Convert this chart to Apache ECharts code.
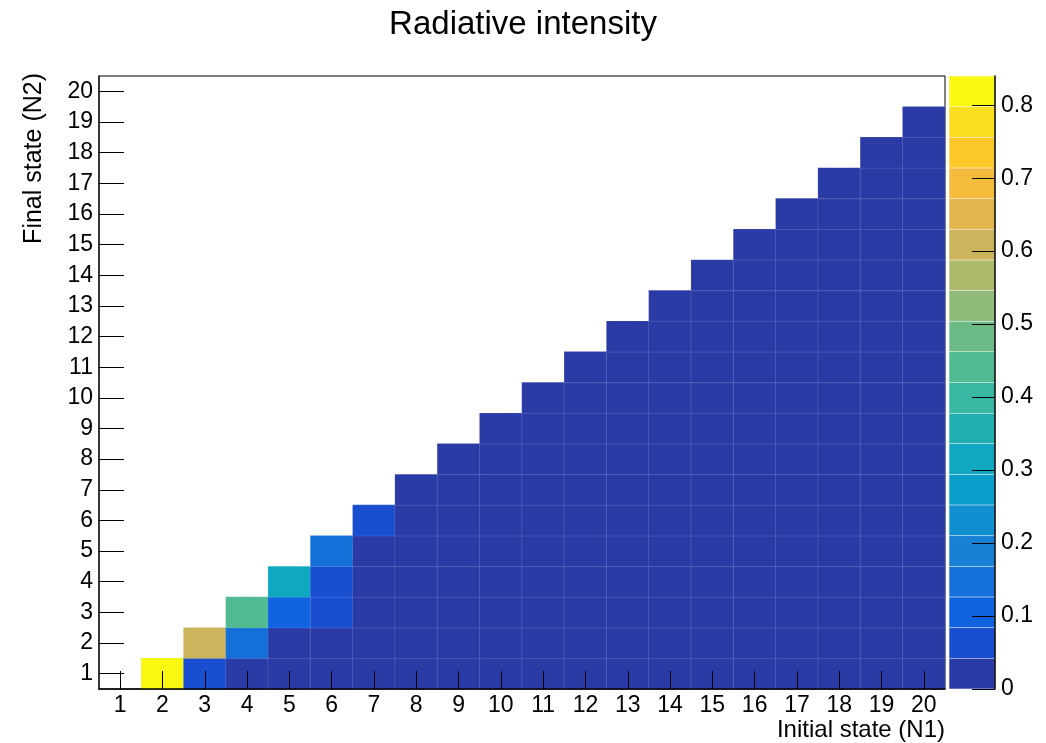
<!DOCTYPE html>
<html>
<head>
<meta charset="utf-8">
<script src="https://cdn.jsdelivr.net/npm/echarts@6/dist/echarts.min.js"></script>
<style>html,body{margin:0;padding:0;background:#fff;}#c{width:1046px;height:743px;}</style>
</head>
<body>
<div id="c"></div>
<script>
// Bin labels for both axes
const initialStates = ['1','2','3','4','5','6','7','8','9','10','11','12','13','14','15','16','17','18','19','20'];
const finalStates   = ['1','2','3','4','5','6','7','8','9','10','11','12','13','14','15','16','17','18','19','20'];

// Radiative intensity: row for final state N2, values for N1 = N2+1 .. 20
const rowN2_1  = [0.82, 0.06, 0.03, 0.02, 0.015, 0.012, 0.01, 0.008, 0.007, 0.006, 0.005, 0.004, 0.004, 0.003, 0.003, 0.003, 0.002, 0.002, 0.002];
const rowN2_2  = [0.61, 0.14, 0.035, 0.025, 0.02, 0.015, 0.012, 0.01, 0.008, 0.007, 0.006, 0.005, 0.004, 0.004, 0.003, 0.003, 0.003, 0.002];
const rowN2_3  = [0.44, 0.10, 0.06, 0.03, 0.02, 0.015, 0.012, 0.01, 0.008, 0.007, 0.006, 0.005, 0.004, 0.004, 0.003, 0.003, 0.003];
const rowN2_4  = [0.31, 0.06, 0.035, 0.025, 0.02, 0.015, 0.012, 0.01, 0.008, 0.007, 0.006, 0.005, 0.004, 0.004, 0.003, 0.003];
const rowN2_5  = [0.15, 0.035, 0.03, 0.02, 0.015, 0.012, 0.01, 0.008, 0.007, 0.006, 0.005, 0.004, 0.004, 0.003, 0.003];
const rowN2_6  = [0.06, 0.03, 0.025, 0.02, 0.015, 0.012, 0.01, 0.008, 0.007, 0.006, 0.005, 0.004, 0.004, 0.003];
const rowN2_7  = [0.035, 0.025, 0.02, 0.015, 0.012, 0.01, 0.008, 0.007, 0.006, 0.005, 0.004, 0.004, 0.003];
const rowN2_8  = [0.03, 0.022, 0.018, 0.014, 0.011, 0.009, 0.008, 0.007, 0.006, 0.005, 0.004, 0.004];
const rowN2_9  = [0.028, 0.02, 0.016, 0.013, 0.01, 0.009, 0.008, 0.007, 0.006, 0.005, 0.004];
const rowN2_10 = [0.026, 0.019, 0.015, 0.012, 0.01, 0.009, 0.008, 0.007, 0.006, 0.005];
const rowN2_11 = [0.024, 0.018, 0.014, 0.011, 0.009, 0.008, 0.007, 0.006, 0.005];
const rowN2_12 = [0.022, 0.017, 0.013, 0.011, 0.009, 0.008, 0.007, 0.006];
const rowN2_13 = [0.021, 0.016, 0.012, 0.01, 0.009, 0.008, 0.007];
const rowN2_14 = [0.02, 0.015, 0.012, 0.01, 0.009, 0.008];
const rowN2_15 = [0.019, 0.014, 0.011, 0.01, 0.009];
const rowN2_16 = [0.018, 0.014, 0.011, 0.01];
const rowN2_17 = [0.017, 0.013, 0.011];
const rowN2_18 = [0.016, 0.013];
const rowN2_19 = [0.015];
const rows = [rowN2_1,rowN2_2,rowN2_3,rowN2_4,rowN2_5,rowN2_6,rowN2_7,rowN2_8,rowN2_9,rowN2_10,
              rowN2_11,rowN2_12,rowN2_13,rowN2_14,rowN2_15,rowN2_16,rowN2_17,rowN2_18,rowN2_19];

// Colour levels (20 contours) and palette
const levels = [0,0.042,0.084,0.126,0.168,0.21,0.252,0.294,0.336,0.378,0.42,0.462,0.504,0.546,0.588,0.63,0.672,0.714,0.756,0.798,0.84];
const palette = ['#2b3ba6','#1a4ed0','#0f62e0','#1470d8','#1880d4','#1090d0','#0a9ecb','#10a8c0','#20b0b0','#38b8a0',
                 '#50ba90','#6cbb86','#90bb78','#aebb6c','#cbb45c','#e3b64e','#f5bb3c','#fcc82a','#fade20','#f8f810'];
const colorbarTicks = [0,0.1,0.2,0.3,0.4,0.5,0.6,0.7,0.8];

const heatData = [];
rows.forEach((row, i) => {
  row.forEach((v, j) => {
    heatData.push([i + 1 + j, i, v]); // x index = N1-1, y index = N2-1
  });
});

const pieces = palette.map((c, i) => ({gte: levels[i], lt: levels[i+1], color: c}));
pieces[pieces.length-1].lte = levels[levels.length-1];
delete pieces[pieces.length-1].lt;

const FONT = 'Liberation Sans, Arial, Helvetica, sans-serif';
const LBL = 23;

const cbSeries = palette.map((c, i) => ({
  type: 'bar', xAxisIndex: 1, yAxisIndex: 1, stack: 'cb', barWidth: '100%',
  data: [levels[i+1] - levels[i]], silent: true,
  itemStyle: {color: c, borderColor: 'rgba(255,255,255,0.12)', borderWidth: 0.5}
}));

const chart = echarts.init(document.getElementById('c'), null, {renderer: 'canvas'});
chart.setOption({
  animation: false,
  backgroundColor: '#fff',
  title: {text: 'Radiative intensity', left: 'center', top: 3,
          textStyle: {fontFamily: FONT, fontSize: 33, fontWeight: 'normal', color: '#000'}},
  grid: [
    {left: 99, right: 101, top: 76, bottom: 54, show: true, borderColor: '#000', borderWidth: 1, backgroundColor: 'transparent'},
    {left: 949, width: 46, top: 76, bottom: 54}
  ],
  xAxis: [
    {type: 'category', data: initialStates, gridIndex: 0, z: 5,
     name: 'Initial state (N1)', nameLocation: 'end', nameGap: 0,
     nameTextStyle: {fontFamily: FONT, fontSize: 24, color: '#000', align: 'right', verticalAlign: 'top', padding: [29,0,0,0]},
     axisLine: {show: true, lineStyle: {color: '#000', width: 1.5}},
     axisTick: {show: true, interval: 0, alignWithLabel: true, inside: true, length: 18, lineStyle: {color: '#000', width: 1}},
     axisLabel: {fontFamily: FONT, fontSize: LBL, color: '#000', margin: 5, interval: 0},
     splitLine: {show: false}},
    {type: 'category', data: [''], gridIndex: 1, show: false}
  ],
  yAxis: [
    {type: 'category', data: finalStates, gridIndex: 0, z: 5,
     axisLine: {show: true, lineStyle: {color: '#222', width: 1.5}},
     axisTick: {show: true, interval: 0, alignWithLabel: true, inside: true, length: 25, lineStyle: {color: '#000', width: 1}},
     axisLabel: {fontFamily: FONT, fontSize: LBL, color: '#000', margin: 6, interval: 0},
     splitLine: {show: false}},
    {type: 'value', gridIndex: 1, position: 'right', min: levels[0], max: levels[levels.length-1], z: 5,
     axisLine: {show: true, lineStyle: {color: '#000', width: 1.5}},
     axisTick: {show: true, inside: true, length: 23, customValues: colorbarTicks, lineStyle: {color: '#000', width: 1}},
     axisLabel: {fontFamily: FONT, fontSize: LBL, color: '#000', margin: 6, customValues: colorbarTicks},
     splitLine: {show: false}}
  ],
  visualMap: {type: 'piecewise', show: false, seriesIndex: 0, pieces: pieces, dimension: 2},
  graphic: [
    {type: 'text', x: 34, y: 73, rotation: Math.PI/2,
     style: {text: 'Final state (N2)', fontFamily: FONT, fontSize: 25, fill: '#000', align: 'right', verticalAlign: 'middle'}}
  ],
  series: [
    {type: 'heatmap', xAxisIndex: 0, yAxisIndex: 0, data: heatData, z: 1,
     itemStyle: {borderColor: 'rgba(255,255,255,0.12)', borderWidth: 1},
     emphasis: {disabled: true}}
  ].concat(cbSeries)
});
</script>
</body>
</html>
